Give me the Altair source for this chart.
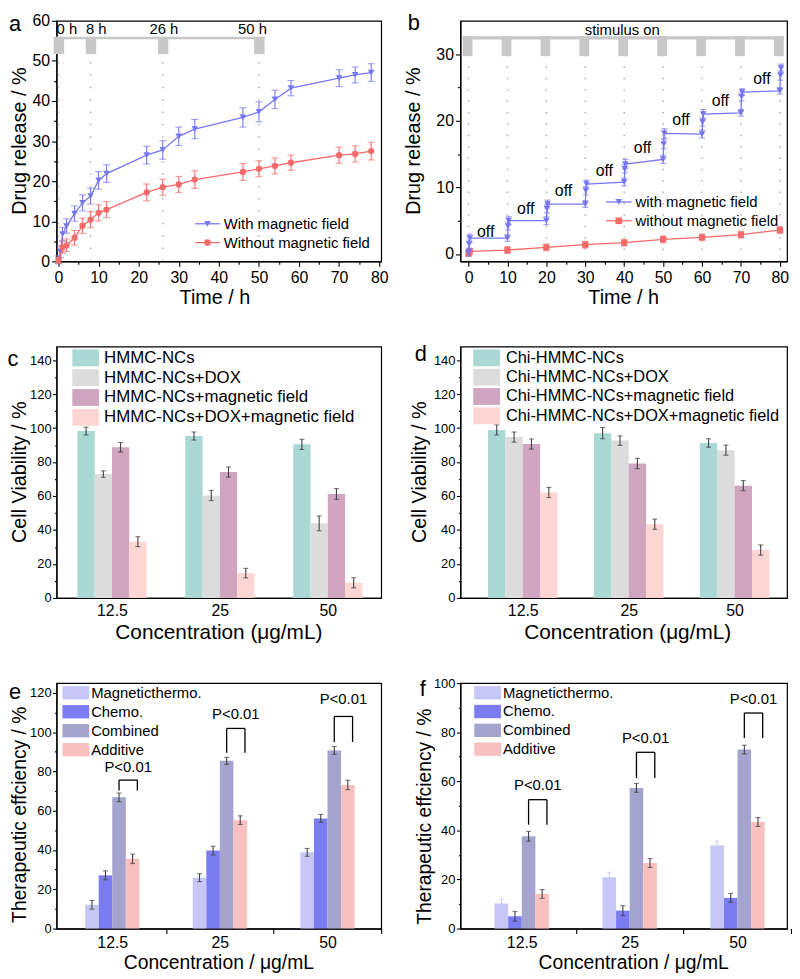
import altair as alt
import pandas as pd

FONT = "Liberation Sans"
BLUE = "#7676f3"
RED = "#f26b6b"
ERRC = "#404040"
BLOCK = "#c8c8c8"
DOT = "#b0b0b0"

# layout (px): plot areas
PAD_L, PAD_T = 49, 8
W1, W2 = 328, 330
H1, H2, H3 = 243, 254, 248
COL_GAP, ROW_GAP = 80, 86
SVG_W, SVG_H = 792, 972
ONE = pd.DataFrame({"k": [0]})

# ---------------- panel a data ----------------
a_t_with = [0, 0.5, 1, 2, 4, 6, 8, 10, 12, 22, 26, 30, 34, 46, 50, 54, 58, 70, 74, 78]
a_with = [0.4, 2.4, 6.8, 8.8, 11.9, 14.6, 16.3, 20.2, 21.9, 26.5, 27.8, 31.2, 33.0, 35.9, 37.3, 40.4, 43.2, 45.7, 46.5, 47.1]
a_with_err = [1.0, 1.5, 1.7, 1.8, 1.9, 2.0, 2.0, 2.2, 2.2, 2.2, 2.3, 2.3, 2.4, 2.4, 2.5, 2.3, 1.9, 2.1, 2.0, 2.2]
a_t_without = [0, 1, 2, 4, 6, 8, 10, 12, 22, 26, 30, 34, 46, 50, 54, 58, 70, 74, 78]
a_without = [0.3, 3.5, 4.0, 5.9, 8.9, 10.4, 12.1, 12.9, 17.2, 18.5, 19.2, 20.4, 22.3, 23.1, 23.8, 24.6, 26.5, 26.8, 27.5]
a_without_err = [0.8, 1.5, 1.6, 1.8, 1.9, 2.0, 2.0, 2.0, 2.1, 2.0, 2.0, 2.2, 2.1, 2.0, 2.0, 1.9, 2.0, 2.0, 2.2]
a_on_times = [0, 8, 26, 50]
a_on_labels = ["0 h", "8 h", "26 h", "50 h"]
a_on_label_x = [2.1, 9.4, 26.3, 48.4]
a_x_ticks = [0, 5, 10, 15, 20, 25, 30, 35, 40, 45, 50, 55, 60, 65, 70, 75, 80]
a_y_ticks = [0, 5, 10, 15, 20, 25, 30, 35, 40, 45, 50, 55, 60]

# ---------------- panel b data ----------------
b_t_with = [0, 0.15, 0.3, 10, 10.15, 10.3, 20, 20.15, 20.3, 30, 30.15, 30.3, 40, 40.15, 40.3,
            50, 50.15, 50.3, 60, 60.15, 60.3, 70, 70.15, 70.3, 80, 80.15, 80.3]
b_with = [0.2, 1.5, 2.4, 2.4, 4.2, 5.0, 5.0, 6.8, 7.5, 7.5, 9.5, 10.5, 10.8, 12.8, 13.5,
          14.2, 16.5, 18.1, 18.0, 19.8, 21.0, 21.2, 23.6, 24.3, 24.5, 26.8, 27.9]
b_with_err = [0.5, 0.6, 0.6, 0.5, 0.6, 0.6, 0.6, 0.6, 0.6, 0.5, 0.6, 0.6, 0.6, 0.6, 0.7,
              0.6, 0.7, 0.7, 0.6, 0.6, 0.7, 0.5, 0.6, 0.5, 0.5, 0.7, 0.6]
b_t_without = [0, 0.3, 10, 20, 30, 40, 50, 60, 70, 80]
b_without = [0.1, 0.4, 0.6, 1.0, 1.4, 1.7, 2.2, 2.5, 2.9, 3.6]
b_without_err = [0.4, 0.4, 0.5, 0.5, 0.5, 0.5, 0.5, 0.5, 0.5, 0.5]
b_on_times = [0, 10, 20, 30, 40, 50, 60, 70, 80]
b_off_x = [4.4, 14.7, 24.4, 34.9, 44.7, 54.6, 64.7, 75.4]
b_off_y = [3.3, 6.8, 9.4, 12.5, 15.9, 20.1, 23.0, 26.3]
b_x_ticks = [0, 5, 10, 15, 20, 25, 30, 35, 40, 45, 50, 55, 60, 65, 70, 75, 80]
b_y_ticks = [0, 5, 10, 15, 20, 25, 30]

# ---------------- bar panels data ----------------
conc = ["12.5", "25", "50"]
c_series = ["HMMC-NCs", "HMMC-NCs+DOX", "HMMC-NCs+magnetic field", "HMMC-NCs+DOX+magnetic field"]
c_vals = [[98.2, 95.3, 90.4], [72.9, 60.3, 43.9], [88.7, 74.1, 61.2], [33.1, 14.6, 8.9]]
c_errs = [[2.3, 2.4, 3.0], [1.9, 3.0, 4.4], [2.8, 3.0, 3.2], [2.9, 2.8, 3.0]]
d_series = ["Chi-HMMC-NCs", "Chi-HMMC-NCs+DOX", "Chi-HMMC-NCs+magnetic field", "Chi-HMMC-NCs+DOX+magnetic field"]
d_vals = [[98.9, 97.0, 91.2], [94.7, 92.6, 87.0], [90.6, 79.1, 66.1], [62.1, 43.4, 28.2]]
d_errs = [[3.0, 3.3, 2.5], [3.0, 2.8, 3.0], [3.0, 3.0, 3.0], [3.0, 3.0, 3.0]]
cd_colors = ["#a9d8d5", "#dcdcdc", "#d0a5c0", "#fdd5d3"]
cv_ticks = [0, 10, 20, 30, 40, 50, 60, 70, 80, 90, 100, 110, 120, 130, 140]

ef_series = ["Magneticthermo.", "Chemo.", "Combined", "Additive"]
ef_colors = ["#c6c6f7", "#7c7cf2", "#a4a4cf", "#f9c0c0"]
e_vals = [[12.1, 25.9, 38.8], [27.1, 39.7, 56.1], [66.8, 85.4, 90.7], [35.5, 55.2, 73.1]]
e_errs = [[2.2, 2.0, 2.0], [2.3, 2.2, 2.0], [2.2, 1.8, 2.0], [2.4, 2.2, 2.4]]
f_vals = [[10.2, 20.9, 33.8], [5.0, 7.3, 12.5], [37.6, 57.3, 72.9], [14.1, 26.7, 43.4]]
f_errs = [[1.8, 2.0, 1.8], [2.0, 2.0, 1.8], [2.0, 1.8, 1.8], [1.8, 1.8, 1.8]]
e_brk_top = [75.6, 101.9, 108.0]
e_brk_leg = [70.3, 89.5, 95.0]
e_p_y = [82.3, 109.0, 116.7]
f_brk_top = [52.5, 71.8, 87.8]
f_brk_leg = [42.3, 61.3, 77.6]
f_p_y = [58.6, 77.6, 93.5]
e_ticks = [0, 10, 20, 30, 40, 50, 60, 70, 80, 90, 100, 110, 120]
f_ticks = [0, 10, 20, 30, 40, 50, 60, 70, 80, 90, 100]


# ---------------- helpers ----------------
def lin_axis(values, major, lsize, lpad, tmaj=5, tmin=3):
    return alt.Axis(values=values, title=None, grid=False, labelFlush=False, labelOverlap=False,
                    labelFontSize=lsize, labelPadding=lpad, labelFont=FONT,
                    labelExpr=f"datum.value % {major} === 0 ? datum.label : ''",
                    tickSize={"condition": {"test": f"datum.value % {major} === 0", "value": tmaj},
                              "value": tmin})


def qx(field, sc, ax):
    return alt.X(field, type="quantitative", scale=sc, axis=ax)


def qy(field, sc, ax):
    return alt.Y(field, type="quantitative", scale=sc, axis=ax)


def txt(s, x, y, size, angle=0, align="center", baseline="middle"):
    return alt.Chart(ONE).mark_text(text=s, font=FONT, fontSize=size, angle=angle, align=align,
                                    baseline=baseline, color="black").encode(x=alt.value(x), y=alt.value(y))


def series(df, color, shape, size, xs, xa, ys, ya, cap=7):
    b = alt.Chart(df)
    x = qx("t", xs, xa)
    return [
        b.mark_rule(color=color, strokeWidth=1.1).encode(x=x, y=qy("lo", ys, ya), y2="hi"),
        b.mark_tick(color=color, orient="horizontal", size=cap, thickness=1.1).encode(x=x, y=qy("lo", ys, ya)),
        b.mark_tick(color=color, orient="horizontal", size=cap, thickness=1.1).encode(x=x, y=qy("hi", ys, ya)),
        b.mark_line(color=color, strokeWidth=1.3).encode(x=x, y=qy("v", ys, ya)),
        b.mark_point(shape=shape, filled=True, size=size, color=color, opacity=1).encode(x=x, y=qy("v", ys, ya)),
    ]


def sdf(t, v, e):
    d = pd.DataFrame({"t": t, "v": v, "e": e})
    d["lo"] = d["v"] - d["e"]
    d["hi"] = d["v"] + d["e"]
    return d


def line_legend(x0, x1, tx, y, color, shape, label, size=15):
    return [
        alt.Chart(ONE).mark_rule(color=color, strokeWidth=1.3).encode(x=alt.value(x0), x2=alt.value(x1), y=alt.value(y)),
        alt.Chart(ONE).mark_point(shape=shape, filled=True, size=45, color=color, opacity=1).encode(
            x=alt.value((x0 + x1) / 2), y=alt.value(y)),
        txt(label, tx, y, size, align="left"),
    ]


# ---------------- panel a ----------------
a_xs = alt.Scale(domain=[-0.5, 80.5], nice=False, zero=False)
a_ys = alt.Scale(domain=[0, 60], nice=False, zero=False)
a_xa = lin_axis(a_x_ticks, 10, 16, 3)
a_ya = lin_axis(a_y_ticks, 10, 16, 2)

df_a_on = pd.DataFrame({"t": a_on_times})
df_a_on["x1"] = df_a_on["t"] - 1.2
df_a_on["x2"] = df_a_on["t"] + 1.4
df_a_on["y0"] = 0
df_a_on["yb"] = 51.7
df_a_on["yt"] = 56.0
df_a_bar = pd.DataFrame({"x1": [min(a_on_times) - 1.2], "x2": [max(a_on_times) + 1.4], "y1": [55.4], "y2": [56.0]})
df_a_lab = pd.DataFrame({"x": a_on_label_x, "s": a_on_labels})
df_a_lab["y"] = 57.9

layers_a = [
    alt.Chart(df_a_on).mark_rule(color=DOT, strokeWidth=1.5, strokeDash=[1.5, 11]).encode(
        x=qx("t", a_xs, a_xa), y=qy("y0", a_ys, a_ya), y2="yb"),
    alt.Chart(df_a_on).mark_rect(color=BLOCK).encode(x=qx("x1", a_xs, a_xa), x2="x2", y=qy("yb", a_ys, a_ya), y2="yt"),
    alt.Chart(df_a_bar).mark_rect(color=BLOCK).encode(x=qx("x1", a_xs, a_xa), x2="x2", y=qy("y1", a_ys, a_ya), y2="y2"),
    alt.Chart(df_a_lab).mark_text(font=FONT, fontSize=15, color="black").encode(
        x=qx("x", a_xs, a_xa), y=qy("y", a_ys, a_ya), text="s:N"),
]
layers_a += series(sdf(a_t_with, a_with, a_with_err), BLUE, "triangle-down", 45, a_xs, a_xa, a_ys, a_ya)
layers_a += series(sdf(a_t_without, a_without, a_without_err), RED, "circle", 40, a_xs, a_xa, a_ys, a_ya)
layers_a += line_legend(140, 165, 169, H1 - 38, BLUE, "triangle-down", "With magnetic field")
layers_a += line_legend(140, 165, 169, H1 - 19, RED, "circle", "Without magnetic field")
layers_a += [
    txt("Drug release / %", -37, H1 / 2, 20, angle=270),
    txt("Time / h", W1 / 2 - 4, H1 + 37, 20),
    txt("a", -42, 3, 22),
]
pa = alt.layer(*layers_a).properties(width=W1, height=H1)

# ---------------- panel b ----------------
b_xs = alt.Scale(domain=[-2.1, 81.85], nice=False, zero=False)
b_ys = alt.Scale(domain=[-1.1, 35], nice=False, zero=False)
b_xa = lin_axis(b_x_ticks, 10, 16, 3)
b_ya = lin_axis(b_y_ticks, 10, 16, 2)

df_b_on = pd.DataFrame({"t": b_on_times})
df_b_on["x1"] = df_b_on["t"] - 1.5
df_b_on["x2"] = df_b_on["t"] + 1.0
df_b_on["y0"] = -1.1
df_b_on["yb"] = 29.7
df_b_on["yt"] = 32.7
df_b_bar = pd.DataFrame({"x1": [min(b_on_times) - 1.5], "x2": [max(b_on_times) + 1.0], "y1": [32.2], "y2": [32.7]})
df_b_off = pd.DataFrame({"x": b_off_x, "y": b_off_y})
df_b_off["s"] = "off"
df_b_stim = pd.DataFrame({"x": [39.5], "y": [33.6], "s": ["stimulus on"]})

layers_b = [
    alt.Chart(df_b_on).mark_rule(color=DOT, strokeWidth=1.5, strokeDash=[1.5, 10]).encode(
        x=qx("t", b_xs, b_xa), y=qy("y0", b_ys, b_ya), y2="yb"),
    alt.Chart(df_b_on).mark_rect(color=BLOCK).encode(x=qx("x1", b_xs, b_xa), x2="x2", y=qy("yb", b_ys, b_ya), y2="yt"),
    alt.Chart(df_b_bar).mark_rect(color=BLOCK).encode(x=qx("x1", b_xs, b_xa), x2="x2", y=qy("y1", b_ys, b_ya), y2="y2"),
    alt.Chart(df_b_stim).mark_text(font=FONT, fontSize=15, color="black").encode(
        x=qx("x", b_xs, b_xa), y=qy("y", b_ys, b_ya), text="s:N"),
    alt.Chart(df_b_off).mark_text(font=FONT, fontSize=16, color="black").encode(
        x=qx("x", b_xs, b_xa), y=qy("y", b_ys, b_ya), text="s:N"),
]
layers_b += series(sdf(b_t_without, b_without, b_without_err), RED, "square", 40, b_xs, b_xa, b_ys, b_ya, cap=6)
layers_b += series(sdf(b_t_with, b_with, b_with_err), BLUE, "triangle-down", 45, b_xs, b_xa, b_ys, b_ya, cap=6)
layers_b += line_legend(147, 173, 177, H1 - 60, BLUE, "triangle-down", "with magnetic field")
layers_b += line_legend(147, 173, 177, H1 - 41, RED, "square", "without magnetic field")
layers_b += [
    txt("Drug release / %", -47, H1 / 2, 20, angle=270),
    txt("Time / h", W2 / 2, H1 + 37, 20),
    txt("b", -47, 2, 22),
]
pb = alt.layer(*layers_b).properties(width=W2, height=H1)


# ---------------- bar panels ----------------
def bar_panel(series_names, colors, vals, errs, ecolors, W, H, lo, hi, bw, ymax, yticks,
              ylab_size, xticks_between, legend_cfg, ytitle, ytitle_x, ytitle_dy, ytitle_size,
              xtitle, xtitle_size, xtitle_dx, letter, letter_xy, brackets=None):
    rows = []
    for i, s in enumerate(series_names):
        for j, c in enumerate(conc):
            cx = (j + 1) + (i - 1.5) * bw
            rows.append({"s": s, "x1": cx - bw / 2, "x2": cx + bw / 2, "xc": cx, "v": vals[i][j], "z": 0,
                         "lo": vals[i][j] - errs[i][j], "hi": vals[i][j] + errs[i][j], "ec": ecolors[i]})
    df = pd.DataFrame(rows)
    xs = alt.Scale(domain=[lo, hi], nice=False, zero=False)
    ys = alt.Scale(domain=[0, ymax], nice=False, zero=False)
    labels_js = "[" + ",".join(f"'{c}'" for c in conc) + "]"
    xexpr = f"datum.value % 1 === 0 ? {labels_js}[datum.value - 1] : ''"
    if xticks_between:
        half = W / (hi - lo) / 2
        xa = alt.Axis(values=[1, 2, 3], title=None, grid=False, labelExpr=xexpr, labelFontSize=16,
                      labelFont=FONT, labelFlush=False, tickSize=5, tickOffset=half, labelOffset=-half,
                      labelPadding=1)
    else:
        xa = alt.Axis(values=[1, 2, 3], title=None, grid=False, labelExpr=xexpr, labelFontSize=16,
                      labelFont=FONT, labelFlush=False, ticks=False, tickSize=0, labelPadding=5)
    ya = lin_axis(yticks, 20, ylab_size, 1.5, tmaj=4, tmin=2)
    cscale = alt.Scale(domain=series_names, range=colors)
    base = alt.Chart(df)
    layers = [
        base.mark_rect().encode(x=qx("x1", xs, xa), x2="x2", y=qy("z", ys, ya), y2="v",
                                color=alt.Color("s:N", scale=cscale, legend=None)),
        base.mark_rule(strokeWidth=1.1).encode(x=qx("xc", xs, xa), y=qy("lo", ys, ya), y2="hi",
                                               color=alt.Color("ec:N", scale=None)),
        base.mark_tick(orient="horizontal", size=5, thickness=1.1).encode(
            x=qx("xc", xs, xa), y=qy("lo", ys, ya), color=alt.Color("ec:N", scale=None)),
        base.mark_tick(orient="horizontal", size=5, thickness=1.1).encode(
            x=qx("xc", xs, xa), y=qy("hi", ys, ya), color=alt.Color("ec:N", scale=None)),
    ]
    if brackets is not None:
        tops, legs, pys = brackets
        bd = pd.DataFrame({"g": [1, 2, 3], "top": tops, "leg": legs, "py": pys})
        bd["xl"] = bd["g"] + 0.5 * bw
        bd["xr"] = bd["g"] + 1.85 * bw
        bd["xm"] = (bd["xl"] + bd["xr"]) / 2
        bd["s"] = "P<0.01"
        bb = alt.Chart(bd)
        layers += [
            bb.mark_rule(color="black", strokeWidth=1.3).encode(x=qx("xl", xs, xa), y=qy("leg", ys, ya), y2="top"),
            bb.mark_rule(color="black", strokeWidth=1.3).encode(x=qx("xr", xs, xa), y=qy("leg", ys, ya), y2="top"),
            bb.mark_rule(color="black", strokeWidth=1.3).encode(x=qx("xl", xs, xa), x2="xr", y=qy("top", ys, ya)),
            bb.mark_text(font=FONT, fontSize=15, color="black").encode(
                x=qx("xm", xs, xa), y=qy("py", ys, ya), text="s:N"),
        ]
    lx, ly, dy, rw, rh, tx, tsize = legend_cfg
    for i, (s, c) in enumerate(zip(series_names, colors)):
        y0 = ly + i * dy
        layers.append(alt.Chart(ONE).mark_rect(color=c).encode(
            x=alt.value(lx), x2=alt.value(lx + rw), y=alt.value(y0), y2=alt.value(y0 + rh)))
        layers.append(txt(s, tx, y0 + rh / 2, tsize, align="left"))
    layers += [
        txt(ytitle, ytitle_x, H / 2 + ytitle_dy, ytitle_size, angle=270),
        txt(xtitle, W / 2 + xtitle_dx, H + 35, xtitle_size),
        txt(letter, letter_xy[0], letter_xy[1], 22),
    ]
    return alt.layer(*layers).properties(width=W, height=H)


pc = bar_panel(c_series, cd_colors, c_vals, c_errs, [ERRC] * 4, W1, H2, 0.486, 3.495, 0.16, 148, cv_ticks,
               13, False, (16, 3, 20, 27, 17, 48, 17), "Cell Viability / %", -37, 0, 20,
               "Concentration (μg/mL)", 21, 0, "c", (-44, 13))
pdd = bar_panel(d_series, cd_colors, d_vals, d_errs, [ERRC] * 4, W2, H2, 0.411, 3.495, 0.164, 148, cv_ticks,
                13, False, (13, 3, 19.5, 27, 17, 46, 16.5), "Cell Viability / %", -41, 0, 20,
                "Concentration (μg/mL)", 21, 4, "d", (-40, 8))
pe = bar_panel(ef_series, ef_colors, e_vals, e_errs, [ERRC, ERRC, ERRC, ERRC], W1, H3, 0.482, 3.499, 0.126, 125,
               e_ticks, 13, True, (6, 3, 19.2, 27, 13.5, 35, 15), "Therapeutic effciency / %", -37, 9, 19.5,
               "Concentration / μg/mL", 19.5, 0, "e", (-42, 9), brackets=(e_brk_top, e_brk_leg, e_p_y))
pf = bar_panel(ef_series, ef_colors, f_vals, f_errs, ["#c8c8ef", ERRC, ERRC, ERRC], W2, H3, 0.431, 3.459, 0.126, 100,
               f_ticks, 13, True, (14, 3, 19, 27, 13.5, 43, 15), "Therapeutic effciency / %", -36, 11, 19.5,
               "Concentration / μg/mL", 19.5, 10, "f", (-38, 6), brackets=(f_brk_top, f_brk_leg, f_p_y))

chart = alt.concat(pa, pb, pc, pdd, pe, pf, columns=2, spacing={"row": ROW_GAP, "column": COL_GAP},
                   bounds="flush", align="each").resolve_scale(color="independent").properties(
    autosize=alt.AutoSizeParams(type="none"),
    padding={"left": PAD_L, "top": PAD_T, "right": SVG_W - PAD_L, "bottom": SVG_H - PAD_T})
chart = chart.configure_view(stroke="black", strokeWidth=1.2).configure_axis(
    domainColor="black", domainWidth=1.2, tickColor="black", tickWidth=1.1, labelColor="black",
    labelFont=FONT, grid=False)

chart.save("out.html", embed_options={"renderer": "svg", "actions": False})
